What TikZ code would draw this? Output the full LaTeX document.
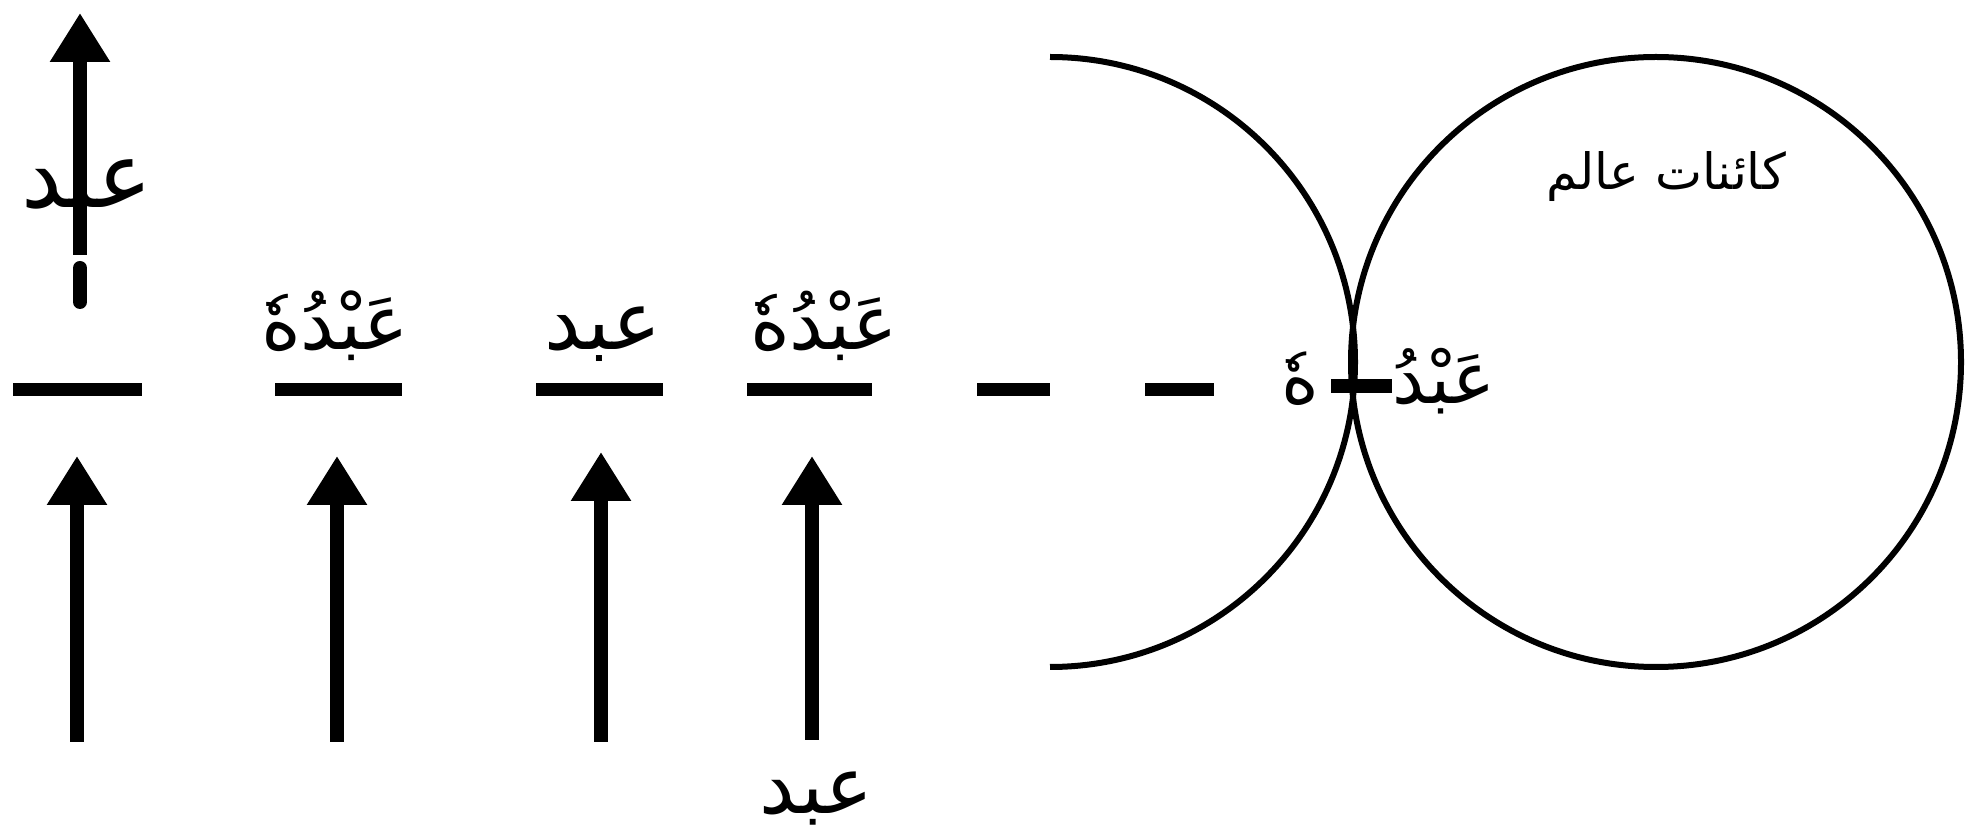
\documentclass[tikz,border=0pt]{standalone}
\usepackage{fontspec}
\newfontfamily\arabicfont[Script=Arabic]{DejaVu Sans}
\TeXXeTstate=1
\usetikzlibrary{arrows.meta}
\begin{document}
\begin{tikzpicture}[x=0.5pt,y=-0.5pt,
  bar/.style={line width=6.5pt},
  upar/.style={line width=7pt,-{Triangle[length=24.5pt,width=28.5pt]}},
  ring/.style={line width=3pt},
  lbl/.style={font=\arabicfont\fontsize{38}{44}\selectfont, inner sep=0pt, anchor=base},
]
\useasboundingbox (0,0) rectangle (1982,833);

% horizontal bars
\draw[bar] (13,390) -- (142,390);
\draw[bar] (275,390) -- (402,390);
\draw[bar] (536,390) -- (663,390);
\draw[bar] (747,390) -- (872,390);
\draw[bar] (977,390) -- (1050,390);
\draw[bar] (1145,390) -- (1214,390);
\draw[line width=7pt] (1331,386) -- (1392,386);

% top arrow
\coordinate (t0) at (80,255);
\coordinate (t1) at (80,13);
\draw[upar] (t0) -- (t1);
\draw[line width=7pt, line cap=round] (80,268) -- (80,302);

% lower arrows
\coordinate (a1s) at (77,742);  \coordinate (a1e) at (77,456);
\coordinate (a2s) at (337,742); \coordinate (a2e) at (337,456);
\coordinate (a3s) at (601,742); \coordinate (a3e) at (601,452);
\coordinate (a4s) at (812,740); \coordinate (a4e) at (812,456);
\draw[upar] (a1s) -- (a1e);
\draw[upar] (a2s) -- (a2e);
\draw[upar] (a3s) -- (a3e);
\draw[upar] (a4s) -- (a4e);

% circles
\draw[ring] (1050,57) arc[start angle=90, end angle=-90, radius=152.5pt];
\draw[ring] (1656,362) circle[radius=152.5pt];

% labels
\node[lbl, font=\arabicfont\fontsize{46}{52}\selectfont] (l0) at (87,208) {\beginR عبد\endR};
\node[lbl] (l2) at (335,350) {\beginR عَبْدُهٗ\endR};
\node[lbl, font=\arabicfont\fontsize{41}{48}\selectfont] (l3) at (603,350) {\beginR عبد\endR};
\node[lbl] (l4) at (824,350) {\beginR عَبْدُهٗ\endR};
\node[lbl, font=\arabicfont\fontsize{40}{46}\selectfont] (l5) at (816,813) {\beginR عبد\endR};
\node[lbl, font=\arabicfont\fontsize{36}{42}\selectfont] (l6) at (1444,404) {\beginR عَبْدُ\endR};
\node[lbl, font=\arabicfont\fontsize{36}{42}\selectfont] (l7) at (1300,404) {\beginR هٗ\endR};
\node[lbl, font=\arabicfont\fontsize{25}{30}\selectfont] (l8) at (1666,190) {\beginR کائنات عالم\endR};
\end{tikzpicture}
\end{document}
